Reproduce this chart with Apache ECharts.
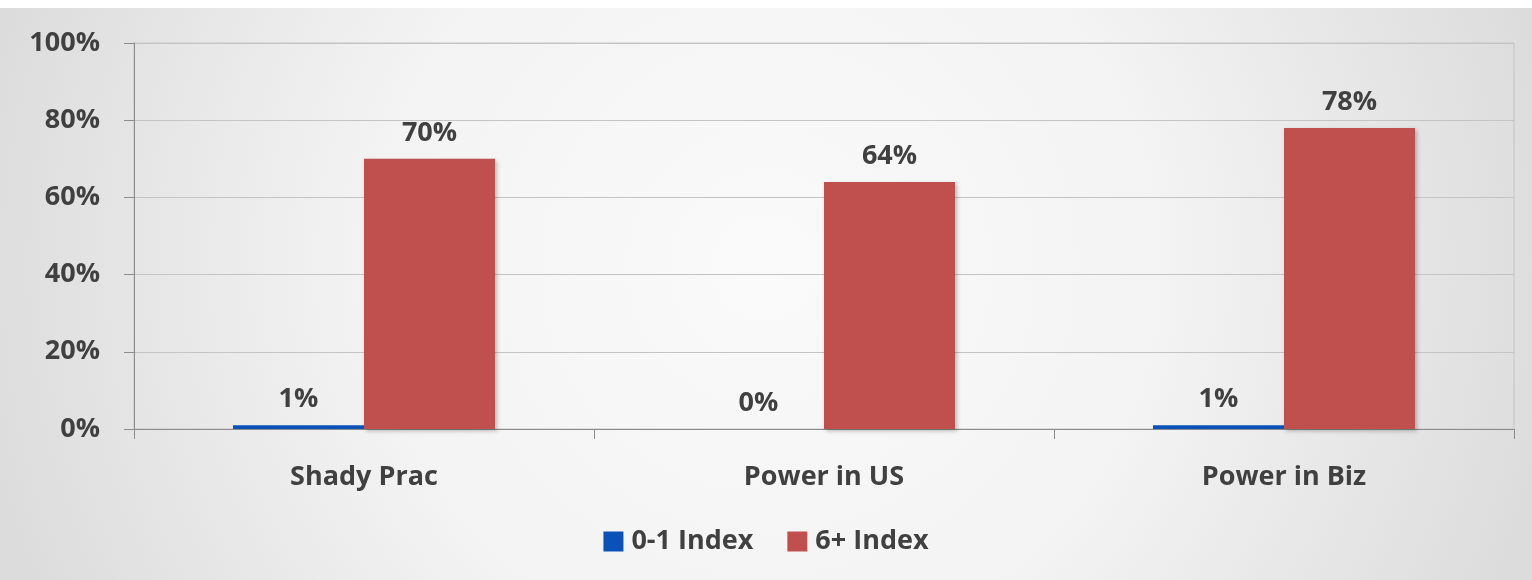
<!DOCTYPE html>
<html>
<head>
<meta charset="utf-8">
<script src="https://cdn.jsdelivr.net/npm/echarts@6/dist/echarts.min.js"></script>
<style>
  html, body { margin: 0; padding: 0; background: #fff; }
  #chart { position: absolute; left: 0; top: 8px; width: 1532px; height: 572px; }
</style>
</head>
<body>
<div id="chart"></div>
<script>
  // chart data
  var categories = ['Shady Prac', 'Power in US', 'Power in Biz'];
  var lowIndex = [1, 0, 1];      // 0-1 Index
  var highIndex = [70, 64, 78];  // 6+ Index
  var seriesNames = ['0-1 Index', '6+ Index'];

  var textColor = '#404040';
  var fontFamily = '"Open Sans", "DejaVu Sans", sans-serif';
  var fontSize = 27;

  var chart = echarts.init(document.getElementById('chart'));

  function labelStyle() {
    return {
      show: true,
      position: 'top',
      distance: 12,
      formatter: '{c}%',
      color: textColor,
      fontSize: fontSize,
      fontWeight: 'bold',
      fontFamily: fontFamily
    };
  }

  chart.setOption({
    backgroundColor: {
      type: 'radial', x: 0.5, y: 0.45, r: 1.4,
      colorStops: [
        { offset: 0, color: '#fafafa' },
        { offset: 0.5, color: '#f3f3f3' },
        { offset: 1, color: '#dcdcdc' }
      ]
    },
    animation: false,
    grid: {
      left: 134,
      right: 18,
      top: 35,
      bottom: 151,
      show: true,
      borderColor: '#c4c4c4',
      borderWidth: 1
    },
    legend: {
      data: seriesNames,
      bottom: 20,
      left: 'center',
      icon: 'rect',
      itemWidth: 20,
      itemHeight: 20,
      itemGap: 34,
      textStyle: {
        color: textColor,
        fontSize: fontSize,
        fontWeight: 'bold',
        fontFamily: fontFamily,
        padding: [0, 0, 0, 3]
      }
    },
    xAxis: {
      type: 'category',
      data: categories,
      axisLine: { lineStyle: { color: '#8c8c8c', width: 1 } },
      axisTick: { show: true, length: 10, lineStyle: { color: '#8c8c8c' } },
      axisLabel: {
        margin: 35,
        color: textColor,
        fontSize: fontSize,
        fontWeight: 'bold',
        fontFamily: fontFamily
      }
    },
    yAxis: {
      type: 'value',
      min: 0,
      max: 100,
      interval: 20,
      axisLine: { show: true, lineStyle: { color: '#8c8c8c', width: 1 } },
      axisTick: { show: true, length: 10, lineStyle: { color: '#8c8c8c' } },
      splitLine: { lineStyle: { color: '#c4c4c4', width: 1 } },
      axisLabel: {
        formatter: '{value}%',
        margin: 34,
        color: textColor,
        fontSize: fontSize,
        fontWeight: 'bold',
        fontFamily: fontFamily
      }
    },
    series: [
      {
        name: seriesNames[0],
        type: 'bar',
        data: lowIndex,
        barWidth: 131,
        barGap: '0%',
        itemStyle: { color: '#0a52b8' },
        label: labelStyle()
      },
      {
        name: seriesNames[1],
        type: 'bar',
        data: highIndex,
        barWidth: 131,
        itemStyle: {
          color: '#c0504d',
          shadowColor: 'rgba(0,0,0,0.25)',
          shadowBlur: 4,
          shadowOffsetX: 2,
          shadowOffsetY: 2
        },
        label: labelStyle()
      }
    ]
  });
</script>
</body>
</html>
